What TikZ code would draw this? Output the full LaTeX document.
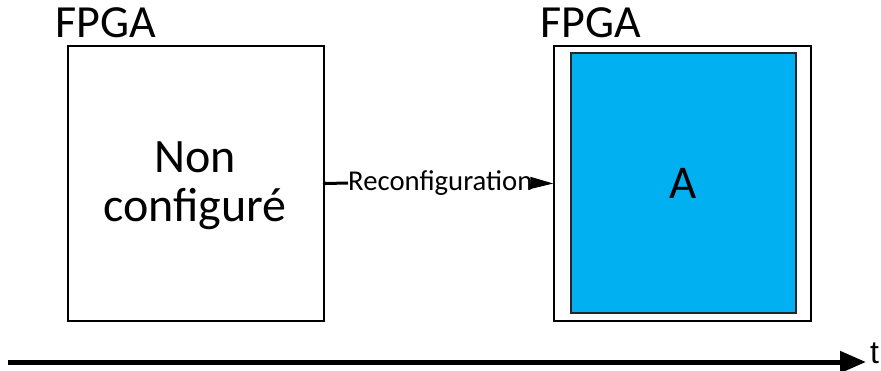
\documentclass[tikz,border=0pt]{standalone}
\usepackage{fontspec}
\setmainfont{Carlito}
\newfontfamily\arialfont{Liberation Sans}
\usetikzlibrary{arrows.meta}
\definecolor{fpgablue}{HTML}{00B0F0}
\begin{document}
\begin{tikzpicture}[x=1pt,y=-1pt,
  fpgabox/.style={draw=black,line width=1.5pt,inner sep=0pt,minimum width=#1},
  bigtext/.style={font=\fontsize{48}{49}\selectfont,align=center,inner sep=0pt},
  labeltext/.style={font=\fontsize{46}{49}\selectfont,inner sep=0pt,anchor=base west}]
\useasboundingbox (0,0) rectangle (881,370);
% left FPGA
\node[fpgabox=256pt,minimum height=275pt] (lb) at (196,183.5) {};
\node[bigtext] (ltxt) at (195,186) {Non\\configuré};
\node[labeltext] (lfp) at (55,37) {FPGA};
% right FPGA
\node[fpgabox=257pt,minimum height=275pt] (rb) at (682.5,183.5) {};
\node[draw=black!85,fill=fpgablue,line width=1.5pt,inner sep=0pt,minimum width=225pt,minimum height=260pt] (ib) at (683.5,183) {};
\node[font=\fontsize{47}{50}\selectfont,inner sep=0pt] (a) at (ib.center) {A};
\node[labeltext] (rfp) at (540,37) {FPGA};
% reconfiguration arrow
\node[font=\fontsize{28.7}{30}\selectfont,inner sep=0pt,anchor=west] (rc) at (348,183) {Reconfiguration};
\fill (lb.east) circle (2pt);
\draw[line width=3pt] (lb.east) -- (rc.west);
\draw[line width=1pt,-{Triangle[length=23pt,width=12pt]}] (rc.east) -- (rb.west);
% time axis
\coordinate (ts) at (8,362);
\coordinate (te) at (866,362);
\draw[line width=5pt,-{Triangle[length=26pt,width=21pt]}] (ts) -- (te);
\node[font=\arialfont\fontsize{32}{34}\selectfont,inner sep=0pt,anchor=base west] (t) at (870,363) {t};
\end{tikzpicture}
\end{document}
